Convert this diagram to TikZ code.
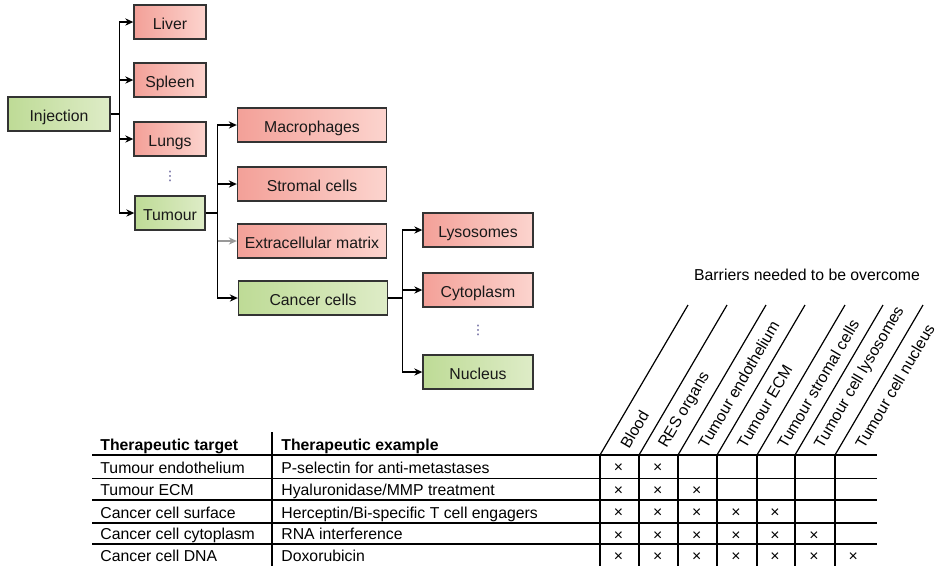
\documentclass[tikz,border=0pt]{standalone}
\usepackage{fontspec}
\setmainfont{Liberation Sans}
\newfontfamily\dotsfont{DejaVu Sans}
\usetikzlibrary{calc, arrows.meta}

\definecolor{redleft}{RGB}{243,160,152}
\definecolor{redright}{RGB}{252,212,206}
\definecolor{greenleft}{RGB}{190,219,150}
\definecolor{greenright}{RGB}{222,236,199}
\definecolor{dotcol}{RGB}{80,75,140}

\begin{document}
\begin{tikzpicture}[x=0.5pt, y=-0.5pt,
  font=\fontsize{7.9}{9.5}\selectfont,
  box/.style={draw=black!80, line width=0.7pt, minimum height=17pt, inner sep=0pt,
    text height=0.72em, text depth=0pt, text=black!90},
  redbox/.style={box, left color=redleft, right color=redright},
  greenbox/.style={box, left color=greenleft, right color=greenright},
  dots/.style={text=dotcol, inner sep=0pt, font=\dotsfont\fontsize{6.5}{7}\selectfont},
  link/.style={line width=0.65pt, -{Stealth[length=4pt, width=3.6pt]}},
  rule/.style={line width=0.6pt},
  cell/.style={anchor=base west, inner sep=0pt},
  cross/.style={inner sep=0pt}]
\useasboundingbox (0,0) rectangle (942,570);
% Injection and organs
\node[greenbox, minimum width=51pt] (inj) at (59,114) {Injection};
\node[redbox, minimum width=36pt] (liver) at (170,22) {Liver};
\node[redbox, minimum width=36pt] (spleen) at (170,80) {Spleen};
\node[redbox, minimum width=36pt] (lungs) at (170,139) {Lungs};
\node[dots] (dotsa) at (170,176) {⋮};
\node[greenbox, minimum width=35pt] (tumour) at (170,213) {Tumour};
% Tumour parts
\node[redbox, minimum width=74.5pt] (macro) at (312,125) {Macrophages};
\node[redbox, minimum width=74.5pt] (stroma) at (312,184) {Stromal cells};
\node[redbox, minimum width=74.5pt] (ecm) at (312,241) {Extracellular matrix};
\node[greenbox, minimum width=74.5pt] (cancer) at (313,298) {Cancer cells};
% Cell parts
\node[redbox, minimum width=55pt] (lyso) at (478,230) {Lysosomes};
\node[redbox, minimum width=55pt] (cyto) at (478,290) {Cytoplasm};
\node[dots] (dotsb) at (478,330) {⋮};
\node[greenbox, minimum width=55pt] (nucleus) at (478,372) {Nucleus};
% Branches
\coordinate (injfork) at ($(inj.east)+(9,0)$);
\coordinate (tumfork) at ($(tumour.east)+(12,0)$);
\coordinate (cellfork) at ($(cancer.east)+(14,0)$);
\draw[line width=0.65pt] (inj.east) -- (injfork);
\foreach \n in {liver,spleen,lungs,tumour}
  \draw[link] (injfork) |- (\n.west);
\draw[line width=0.65pt] (tumour.east) -- (tumfork);
\foreach \n in {macro,stroma,cancer}
  \draw[link] (tumfork) |- (\n.west);
\draw[link, black!40] (tumfork |- ecm.west) -- (ecm.west);
\draw[line width=0.65pt] (cancer.east) -- (cellfork);
\foreach \n in {lyso,cyto,nucleus}
  \draw[link] (cellfork) |- (\n.west);
% Barrier headings
\node (barriers) at (807,275) {Barriers needed to be overcome};
\foreach \x/\lab [count=\i] in {600/Blood, 639/RES organs, 678/Tumour endothelium,
    717/Tumour ECM, 757/Tumour stromal cells, 795/Tumour cell lysosomes, 835/Tumour cell nucleus} {
  \draw[rule] (\x,455) -- ++(88,-150);
  \node[rotate=59.6, anchor=west, inner sep=1pt] (b\i) at (\x+23,449) {\lab};
}
% Table rules
\foreach \y in {455,478.5,500,523,544}
  \draw[rule] (92,\y) -- (877,\y);
\draw[rule] (272,432) -- (272,566);
\foreach \x in {600,639,678,717,757,795,835}
  \draw[rule] (\x,455) -- (\x,566);
% Table text
\node[cell] (hta) at (100,450) {\bfseries Therapeutic target};
\node[cell] (htb) at (281,450) {\bfseries Therapeutic example};
\foreach \y/\target/\example [count=\r] in {473/Tumour endothelium/P-selectin for anti-metastases,
    495/Tumour ECM/{Hyaluronidase/MMP treatment},
    518/Cancer cell surface/{Herceptin/Bi-specific T cell engagers},
    539.5/Cancer cell cytoplasm/RNA interference,
    561.5/Cancer cell DNA/Doxorubicin} {
  \node[cell] (t\r) at (100,\y) {\target};
  \node[cell] (e\r) at (281,\y) {\example};
}
% Crosses
\foreach \y/\n [count=\r] in {468/2, 491/3, 513/5, 536/6, 557/7}
  \foreach \c in {1,...,\n}
    \node[cross] (x\r\c) at (579.5+39.1*\c,\y) {×};
\end{tikzpicture}
\end{document}
